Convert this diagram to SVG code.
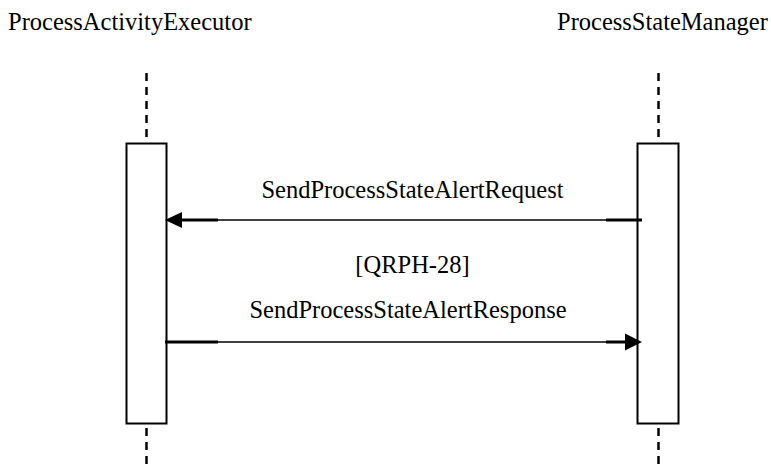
<svg xmlns="http://www.w3.org/2000/svg" width="771" height="464" viewBox="0 0 771 464" font-family="Liberation Serif, Times New Roman, serif" font-size="24.5">
<defs>
<style>
.life{stroke:#000;stroke-width:2.5;stroke-dasharray:8,6;fill:none}
.act{fill:#fff;stroke:#000;stroke-width:2}
.thin{stroke:#000;stroke-width:1.5;fill:none}
.thick{stroke:#000;stroke-width:3;fill:none}
</style>
</defs>
<rect width="771" height="464" fill="#fff"/>
<g id="ProcessActivityExecutor">
<text x="8" y="30" font-family="Liberation Serif" font-size="24.5">ProcessActivityExecutor</text>
<line class="life" x1="146.5" y1="73" x2="146.5" y2="143"/>
<line class="life" x1="146.5" y1="428" x2="146.5" y2="464"/>
<rect class="act" x="126.5" y="143.5" width="40" height="280"/>
</g>
<g id="ProcessStateManager">
<text x="557" y="30" font-family="Liberation Serif" font-size="24.5">ProcessStateManager</text>
<line class="life" x1="658.5" y1="73" x2="658.5" y2="143"/>
<line class="life" x1="658.5" y1="428" x2="658.5" y2="464"/>
<rect class="act" x="637.5" y="143.5" width="41" height="280"/>
</g>
<g id="connectors">
<g id="request">
<line class="thin" x1="180" y1="220" x2="606" y2="220"/>
<line class="thick" x1="180" y1="220" x2="218" y2="220"/>
<line class="thick" x1="606" y1="220" x2="642" y2="220"/>
<polygon points="165,220 182,212 182,228" fill="#000"/>
<text x="412.5" y="198" text-anchor="middle" font-family="Liberation Serif" font-size="24.5">SendProcessStateAlertRequest</text>
</g>
<text x="412.5" y="273" text-anchor="middle" font-family="Liberation Serif" font-size="24.5">[QRPH-28]</text>
<g id="response">
<line class="thin" x1="218" y1="342" x2="625" y2="342"/>
<line class="thick" x1="165" y1="342" x2="218" y2="342"/>
<line class="thick" x1="606" y1="342" x2="625" y2="342"/>
<polygon points="642,342 625,333.5 625,350.5" fill="#000"/>
<text x="408" y="318" text-anchor="middle" font-family="Liberation Serif" font-size="24.5">SendProcessStateAlertResponse</text>
</g>
</g>
</svg>
